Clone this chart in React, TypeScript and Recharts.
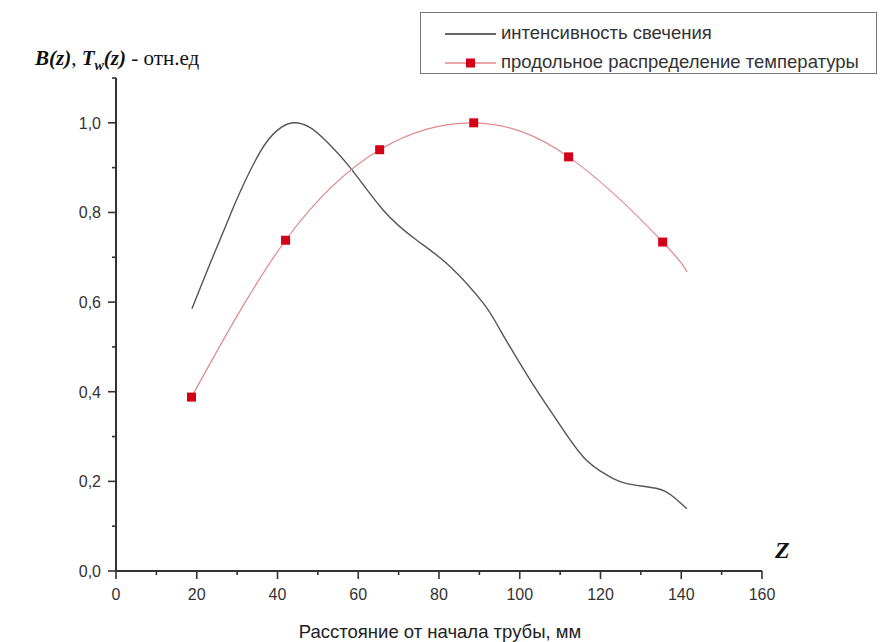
import React from "react";
import { LineChart, Line, XAxis, YAxis, Label } from "recharts";

// luminosity curve (black)
const glowZ = [18.8, 23.3, 27.4, 30.7, 35.7, 39.8, 43.9, 48, 51.4, 58, 66.2, 74.5, 82.8, 91, 95.2, 102.6, 109.2, 115.8, 121.6, 126.5, 134, 138.1, 141.4];
const glowB = [0.585, 0.686, 0.775, 0.845, 0.935, 0.982, 1.0, 0.99, 0.965, 0.9, 0.805, 0.738, 0.679, 0.597, 0.537, 0.426, 0.336, 0.254, 0.214, 0.195, 0.184, 0.165, 0.139];

// temperature distribution (red), last point is the end of the fitted curve, no marker
const tempZ = [18.7, 42.0, 65.3, 88.6, 112.1, 135.4, 141.4];
const tempT = [0.388, 0.738, 0.94, 1.0, 0.924, 0.734, 0.667];
const tempMarker = [true, true, true, true, true, true, false];

const xTicks = [0, 10, 20, 30, 40, 50, 60, 70, 80, 90, 100, 110, 120, 130, 140, 150, 160];
const yTicks = [0, 0.1, 0.2, 0.3, 0.4, 0.5, 0.6, 0.7, 0.8, 0.9, 1.0, 1.1];

const glowLabel = "интенсивность свечения";
const tempLabel = "продольное распределение температуры";

const glowData = glowZ.map((z, i) => ({ z, v: glowB[i] }));
const tempData = tempZ.map((z, i) => ({ z, v: tempT[i], marker: tempMarker[i] }));

const AXIS = "#333";
const SANS = "'Liberation Sans', Arial, sans-serif";
const SERIF = "'Liberation Serif', 'Times New Roman', serif";

const XTick = (props: any) => {
  const { x, y, payload } = props;
  const major = payload.value % 20 === 0;
  return (
    <g>
      <line x1={x} y1={y} x2={x} y2={y + (major ? 8 : 4)} stroke={AXIS} strokeWidth={1.6} />
      {major && (
        <text x={x} y={y + 29} textAnchor="middle" fontFamily={SANS} fontSize={16} fill="#333">
          {payload.value}
        </text>
      )}
    </g>
  );
};

const YTick = (props: any) => {
  const { x, y, payload } = props;
  const k = Math.round(payload.value * 10);
  const major = k % 2 === 0;
  return (
    <g>
      <line x1={x} y1={y} x2={x - (major ? 8 : 4)} y2={y} stroke={AXIS} strokeWidth={1.6} />
      {major && (
        <text x={x - 15} y={y + 6} textAnchor="end" fontFamily={SANS} fontSize={16} fill="#333">
          {payload.value.toFixed(1).replace(".", ",")}
        </text>
      )}
    </g>
  );
};

const YTitle = () => (
  <text x={35} y={65} fontFamily={SERIF} fontSize={21} fill="#111">
    <tspan fontWeight="bold" fontStyle="italic">B(z)</tspan>
    <tspan>, </tspan>
    <tspan fontWeight="bold" fontStyle="italic">T</tspan>
    <tspan fontWeight="bold" fontStyle="italic" fontSize={14} dy={5}>w</tspan>
    <tspan fontWeight="bold" fontStyle="italic" dy={-5}>(z)</tspan>
    <tspan> - отн.ед</tspan>
  </text>
);

const XTitle = () => (
  <g>
    <text x={440} y={638} textAnchor="middle" fontFamily={SANS} fontSize={18.5} fill="#222">
      Расстояние от начала трубы, мм
    </text>
    <text x={775} y={558} fontFamily={SERIF} fontSize={24} fontWeight="bold" fontStyle="italic" fill="#111">
      Z
    </text>
  </g>
);

const TempDot = (props: any) => {
  const { cx, cy, payload, index } = props;
  if (!payload.marker) return <g key={`d-${index}`} />;
  return <rect key={`d-${index}`} x={cx - 4.5} y={cy - 4.5} width={9} height={9} fill="#d40018" />;
};

const App: React.FC = () => {
  return (
    <div style={{ position: "absolute", left: 0, top: 0, width: 880, height: 642, background: "#fff" }}>
      <LineChart width={880} height={642} margin={{ top: 78, right: 118, left: 0, bottom: 41 }}>
        <XAxis
          type="number"
          dataKey="z"
          domain={[0, 160]}
          ticks={xTicks}
          interval={0}
          tick={<XTick />}
          tickLine={false}
          tickSize={0}
          tickMargin={0}
          height={30}
          axisLine={{ stroke: AXIS, strokeWidth: 2 }}
          allowDataOverflow
        >
          <Label content={<XTitle />} />
        </XAxis>
        <YAxis
          type="number"
          domain={[0, 1.1]}
          ticks={yTicks}
          interval={0}
          tick={<YTick />}
          tickLine={false}
          tickSize={0}
          tickMargin={0}
          width={116}
          axisLine={{ stroke: AXIS, strokeWidth: 2 }}
          allowDataOverflow
        >
          <Label content={<YTitle />} />
        </YAxis>
        <Line
          data={glowData}
          dataKey="v"
          type="natural"
          stroke="#555"
          strokeWidth={1.4}
          dot={false}
          activeDot={false}
          isAnimationActive={false}
        />
        <Line
          data={tempData}
          dataKey="v"
          type="natural"
          stroke="#e08a8a"
          strokeWidth={1.2}
          dot={TempDot}
          activeDot={false}
          isAnimationActive={false}
        />
      </LineChart>
      <div
        style={{
          position: "absolute",
          left: 420,
          top: 12,
          width: 457,
          height: 62,
          border: "1.5px solid #777",
          boxSizing: "border-box",
          fontFamily: SANS,
          fontSize: 18.5,
          color: "#333",
        }}
      >
        <svg width={60} height={61} style={{ position: "absolute", left: 20, top: 0 }}>
          <line x1={4} y1={21} x2={55} y2={21} stroke="#333" strokeWidth={1.3} />
          <line x1={4} y1={50} x2={55} y2={50} stroke="#e08a8a" strokeWidth={1.3} />
          <rect x={25} y={45.5} width={9} height={9} fill="#d40018" />
        </svg>
        <div style={{ position: "absolute", left: 80, top: 10, lineHeight: "20px", whiteSpace: "nowrap" }}>{glowLabel}</div>
        <div style={{ position: "absolute", left: 80, top: 39, lineHeight: "20px", whiteSpace: "nowrap" }}>{tempLabel}</div>
      </div>
    </div>
  );
};

export default App;
